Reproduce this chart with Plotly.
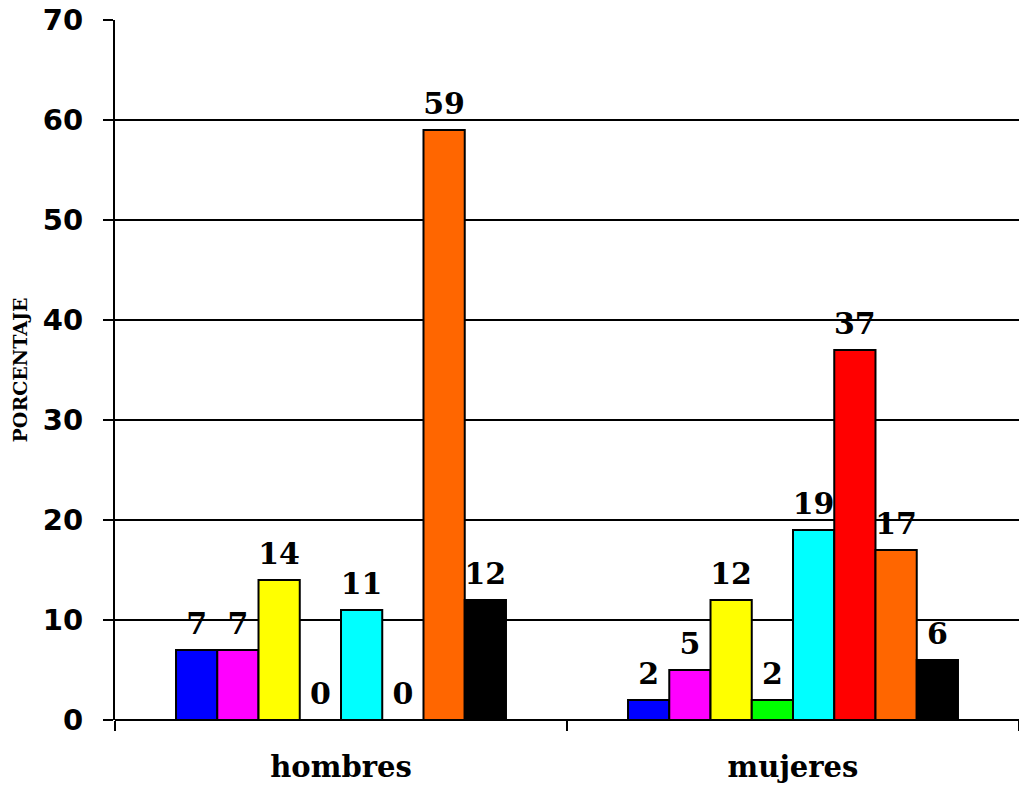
import plotly.graph_objects as go

categories = ["hombres", "mujeres"]
series_names = ["Serie 1", "Serie 2", "Serie 3", "Serie 4", "Serie 5", "Serie 6", "Serie 7", "Serie 8"]
series_colors = ["#0000FF", "#FF00FF", "#FFFF00", "#00FF00", "#00FFFF", "#FF0000", "#FF6600", "#000000"]
values_hombres = [7, 7, 14, 0, 11, 0, 59, 12]
values_mujeres = [2, 5, 12, 2, 19, 37, 17, 6]
y_ticks = [0, 10, 20, 30, 40, 50, 60, 70]

fig = go.Figure()
for i, name in enumerate(series_names):
    vals = [values_hombres[i], values_mujeres[i]]
    fig.add_trace(go.Bar(
        x=categories, y=vals, name=name,
        marker=dict(color=series_colors[i], line=dict(color="black", width=2)),
        offsetgroup=str(i),
    ))
for i, name in enumerate(series_names):
    vals = [values_hombres[i], values_mujeres[i]]
    fig.add_trace(go.Scatter(
        x=categories, y=vals, name=name + " etiqueta",
        mode="markers+text", text=[str(v) for v in vals], textposition="top center",
        marker=dict(size=12, color="rgba(0,0,0,0)", line=dict(width=0)),
        textfont=dict(family="DejaVu Serif", size=30, color="black", weight="bold"),
        offsetgroup=str(i), cliponaxis=False, hoverinfo="skip",
    ))

fig.update_layout(
    width=1019, height=785,
    margin=dict(l=115, r=0, t=20, b=65),
    plot_bgcolor="white", paper_bgcolor="white",
    barmode="group", bargap=0.27, bargroupgap=0,
    scattermode="group", scattergap=0.27,
    showlegend=False,
    xaxis=dict(
        showline=False, ticks="outside", ticklen=10, tickwidth=2, tickcolor="black",
        tickson="boundaries", ticklabelstandoff=27, automargin=False,
        tickfont=dict(family="DejaVu Serif", size=29, color="black", weight="bold"),
        showgrid=False,
    ),
    yaxis=dict(
        range=[0, 70], tickvals=y_ticks, automargin=False,
        showline=True, linecolor="black", linewidth=2,
        ticks="outside", ticklen=10, tickwidth=2, tickcolor="black",
        ticklabelstandoff=14,
        showgrid=True, gridcolor="black", gridwidth=2,
        zeroline=True, zerolinecolor="black", zerolinewidth=2,
        tickfont=dict(family="DejaVu Sans", size=29, color="black", weight="bold"),
        title=dict(text="PORCENTAJE", standoff=10,
                   font=dict(family="DejaVu Serif", size=19, color="black", weight="bold")),
    ),
)

fig.write_html("out.html")
